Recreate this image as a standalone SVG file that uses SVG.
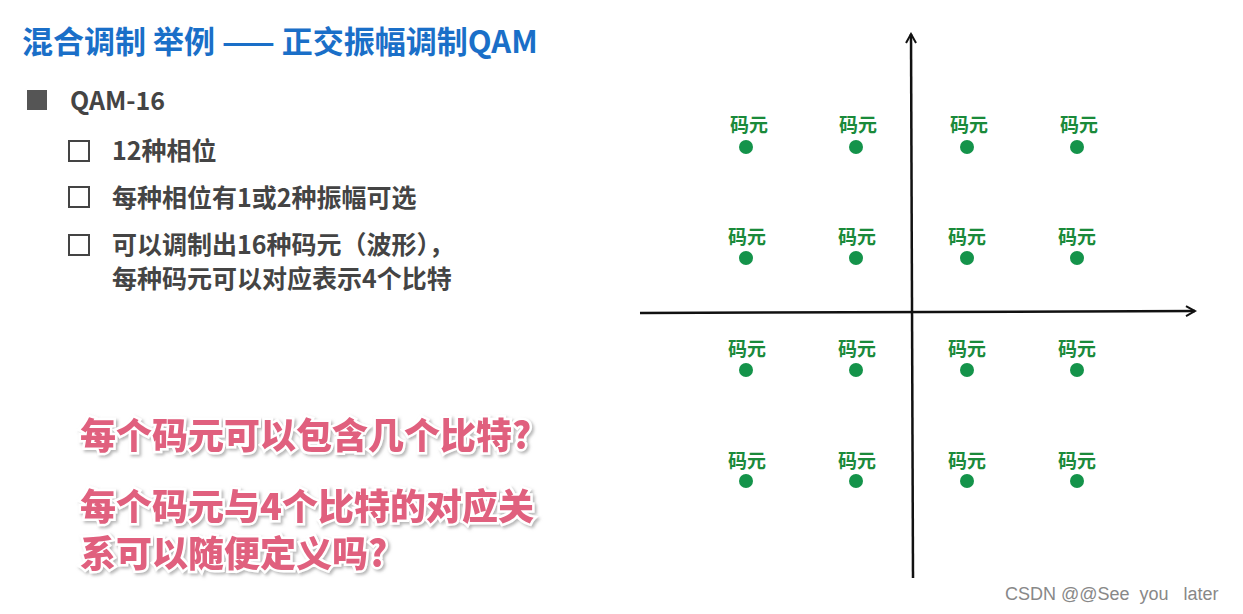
<svg xmlns="http://www.w3.org/2000/svg" width="1243" height="614" viewBox="0 0 1243 614">
<defs>
<style>
.t{font-family:"Noto Sans CJK SC","Open Sans",sans-serif;font-weight:bold}
.lb{font-family:"Noto Sans CJK SC",sans-serif;font-weight:bold;font-size:19px;fill:#1a8a3a;text-anchor:middle}
.dot{fill:#14934a}
.it{font-size:25px;fill:#444}
.pk{font-size:36px;fill:#e0607e;stroke:#fff;stroke-width:5px;paint-order:stroke;font-weight:900}
.box{fill:none;stroke:#444;stroke-width:2}
</style>
<marker id="ar" viewBox="0 0 12 12" refX="10" refY="6" markerWidth="12" markerHeight="12" markerUnits="userSpaceOnUse" orient="auto"><path d="M1,1 L10,6 L1,11" fill="none" stroke="#111" stroke-width="2"/></marker>
<filter id="sh"><feDropShadow dx="2" dy="2" stdDeviation="1.5" flood-color="#888" flood-opacity="0.6"/></filter>
</defs>
<rect width="1243" height="614" fill="#fff"/>
<text class="t" x="22" y="53" font-size="31" fill="#1a6fc8">混合调制 举例 —— 正交振幅调制QAM</text>
<rect x="27" y="90" width="20" height="20" fill="#555"/>
<text class="t it" x="70" y="110">QAM-16</text>
<rect class="box" x="69" y="141" width="20" height="20"/>
<text class="t it" x="112" y="160">12种相位</text>
<rect class="box" x="69" y="187" width="20" height="20"/>
<text class="t it" x="112" y="207">每种相位有1或2种振幅可选</text>
<rect class="box" x="69" y="235" width="20" height="20"/>
<text class="t it" x="112" y="254">可以调制出16种码元（波形），</text>
<text class="t it" x="112" y="288">每种码元可以对应表示4个比特</text>
<g filter="url(#sh)">
<text class="t pk" x="80" y="449">每个码元可以包含几个比特?</text>
<text class="t pk" x="80" y="520">每个码元与4个比特的对应关</text>
<text class="t pk" x="80" y="567">系可以随便定义吗?</text>
</g>
<g id="connectors" stroke="#111" stroke-width="2.5">
<line x1="913" y1="578" x2="911" y2="34" marker-end="url(#ar)"/>
<line x1="640" y1="313" x2="1195" y2="311" marker-end="url(#ar)"/>
</g>
<g id="points">
<g id="r1"><text class="lb" x="749" y="132">码元</text><text class="lb" x="858" y="132">码元</text><text class="lb" x="969" y="132">码元</text><text class="lb" x="1079" y="132">码元</text>
<circle class="dot" cx="746" cy="147" r="7"/><circle class="dot" cx="856" cy="147" r="7"/><circle class="dot" cx="967" cy="147" r="7"/><circle class="dot" cx="1077" cy="147" r="7"/></g>
<g id="r2"><text class="lb" x="747" y="244">码元</text><text class="lb" x="857" y="244">码元</text><text class="lb" x="967" y="244">码元</text><text class="lb" x="1077" y="244">码元</text>
<circle class="dot" cx="746" cy="258" r="7"/><circle class="dot" cx="856" cy="258" r="7"/><circle class="dot" cx="967" cy="258" r="7"/><circle class="dot" cx="1077" cy="258" r="7"/></g>
<g id="r3"><text class="lb" x="747" y="356">码元</text><text class="lb" x="857" y="356">码元</text><text class="lb" x="967" y="356">码元</text><text class="lb" x="1077" y="356">码元</text>
<circle class="dot" cx="746" cy="370" r="7"/><circle class="dot" cx="856" cy="370" r="7"/><circle class="dot" cx="967" cy="370" r="7"/><circle class="dot" cx="1077" cy="370" r="7"/></g>
<g id="r4"><text class="lb" x="747" y="468">码元</text><text class="lb" x="857" y="468">码元</text><text class="lb" x="967" y="468">码元</text><text class="lb" x="1077" y="468">码元</text>
<circle class="dot" cx="746" cy="481" r="7"/><circle class="dot" cx="856" cy="481" r="7"/><circle class="dot" cx="967" cy="481" r="7"/><circle class="dot" cx="1077" cy="481" r="7"/></g>
</g>
<text x="1005" y="600" font-family="Liberation Sans,sans-serif" font-size="18" fill="#888" xml:space="preserve">CSDN @@See  you   later</text>
</svg>
